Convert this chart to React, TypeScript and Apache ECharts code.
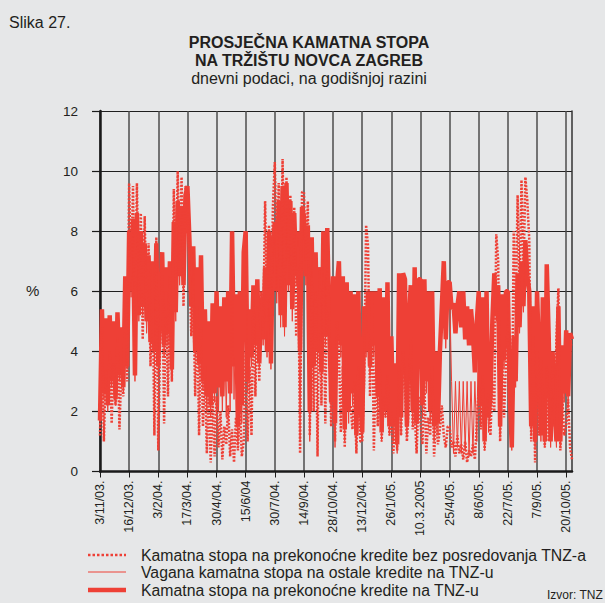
import React, { useEffect, useRef } from "react";
import * as echarts from "echarts";

const tickLabels = [
  "3/11/03.", "16/12/03.", "3/2/04.", "17/3/04.", "30/4/04.", "15/6/04", "30/7/04.",
  "14/9/04.", "28/10/04.", "13/12/04.", "26/1/05.", "10.3.2005", "25/4/05.", "8/6/05.",
  "22/7/05.", "7/9/05.", "20/10/05.",
];

// Kamatna stopa na prekonoćne kredite na TNZ-u (thick)
const overnightTNZ = [
  1.7, 5.4, 2.6, 5.1, 2.2, 5.2, 3.0, 5.0, 2.4, 5.3, 3.2, 4.8, 2.8, 6.5, 3.5,
  8.0, 6.0, 8.4, 3.2, 8.6, 5.2, 8.0, 5.5, 7.6, 5.0, 7.2, 4.3, 7.0, 4.0, 7.6,
  3.5, 5.8, 7.3, 4.2, 6.8, 4.6, 7.0, 3.4, 8.3, 5.3, 9.0, 6.5, 8.8, 6.2, 9.2,
  9.5, 7.8, 5.5, 7.5, 4.0, 6.8, 3.6, 7.2, 3.0, 5.4, 2.5, 5.0, 2.2, 5.6, 2.6,
  6.0, 2.8, 5.5, 2.5, 5.8, 3.0, 6.0, 2.6, 8.0, 3.5, 5.9, 1.5, 6.0, 2.2, 7.3,
  8.0, 3.0, 5.4, 3.8, 6.2, 4.2, 6.4, 3.6, 5.8, 4.4, 6.8, 4.0, 8.0, 3.6, 7.5,
  8.3, 6.0, 9.0, 5.2, 9.5, 4.8, 9.6, 6.2, 9.0, 5.4, 8.6, 6.5, 8.0, 4.0, 8.8,
  8.5, 6.5, 8.2, 2.0, 7.8, 3.5, 7.3, 4.0, 6.8, 3.3, 8.0, 4.5, 8.1, 5.0, 2.3,
  6.5, 1.6, 6.2, 7.0, 4.2, 6.5, 1.4, 6.3, 2.0, 6.0, 2.6, 5.9, 1.2, 6.0, 2.4,
  1.3, 5.5, 4.0, 6.0, 3.5, 6.0, 4.2, 6.0, 2.5, 6.1, 1.3, 5.8, 2.0, 6.3, 1.5,
  4.5, 1.5, 3.6, 0.9, 6.6, 1.8, 6.6, 6.4, 1.5, 5.0, 6.2, 2.0, 6.8, 1.6, 6.4,
  6.4, 2.2, 6.4, 3.0, 6.0, 2.0, 6.0, 1.5, 4.0, 1.6, 4.0, 5.5, 7.0, 4.4, 6.3,
  6.3, 5.4, 5.6, 4.6, 5.5, 6.0, 4.8, 6.0, 4.4, 5.5, 4.2, 5.4, 4.6, 3.3, 5.0,
  6.0, 2.2, 5.8, 1.0, 6.0, 1.8, 2.5, 5.0, 6.6, 5.2, 6.2, 1.5, 5.9, 3.7, 6.0,
  6.0, 2.5, 0.8, 4.5, 3.0, 6.6, 4.8, 7.0, 5.5, 7.7, 6.5, 6.0, 1.5, 5.5, 1.0,
  6.0, 3.9, 1.2, 5.8, 1.0, 6.9, 4.5, 1.0, 4.0, 2.2, 1.0, 5.5, 1.0, 4.2, 2.6,
  4.7, 2.5, 4.6, 4.4,
];

// Vagana kamatna stopa na ostale kredite na TNZ-u (thin)
const weightedOther = [
  1.5, 5.3, 2.4, 5.0, 2.0, 5.1, 2.8, 4.9, 2.2, 5.2, 3.0, 4.7, 2.6, 6.4, 3.4,
  7.8, 5.8, 8.2, 3.0, 8.5, 5.0, 7.8, 5.2, 7.5, 4.6, 7.0, 4.0, 6.8, 3.6, 7.4,
  3.2, 5.6, 7.2, 3.8, 6.6, 4.2, 6.8, 3.0, 8.1, 5.0, 8.9, 6.2, 8.6, 6.0, 9.0,
  9.3, 7.5, 5.2, 7.3, 3.8, 6.6, 3.3, 7.0, 2.7, 5.2, 2.0, 4.8, 1.8, 5.4, 2.3,
  5.8, 2.0, 5.2, 2.0, 5.5, 1.8, 5.8, 2.0, 7.8, 2.4, 5.7, 1.0, 5.8, 1.6, 7.0,
  7.8, 2.6, 5.2, 3.5, 6.0, 4.0, 6.2, 3.4, 5.6, 4.2, 6.6, 3.8, 7.8, 3.4, 7.3,
  8.0, 5.6, 8.8, 4.8, 9.3, 4.5, 9.4, 6.0, 8.8, 5.0, 8.4, 6.2, 7.8, 1.0, 8.6,
  8.3, 6.2, 8.0, 1.0, 7.6, 3.0, 7.1, 3.6, 6.6, 3.0, 7.8, 4.2, 7.9, 4.8, 2.0,
  6.3, 0.8, 6.0, 6.8, 3.8, 6.3, 1.0, 6.1, 1.6, 5.8, 2.2, 5.7, 0.9, 5.8, 2.0,
  1.0, 5.3, 3.8, 5.8, 3.2, 5.8, 3.8, 5.8, 2.2, 5.9, 1.0, 5.6, 1.8, 6.1, 1.2,
  4.3, 1.0, 3.4, 0.6, 6.4, 1.2, 6.4, 6.2, 1.2, 4.8, 6.0, 1.5, 6.6, 1.0, 6.2,
  6.2, 1.8, 6.2, 2.6, 5.8, 1.6, 5.8, 1.0, 3.8, 1.2, 3.8, 5.2, 6.8, 4.1, 6.1,
  6.0, 3.0, 0.6, 3.0, 0.8, 3.0, 0.6, 3.0, 0.7, 3.0, 0.5, 3.0, 0.6, 3.0, 1.0,
  5.8, 1.5, 5.6, 0.7, 5.8, 1.3, 2.2, 4.8, 6.4, 5.0, 6.0, 1.2, 5.7, 3.4, 5.8,
  5.8, 2.2, 0.7, 4.2, 2.8, 6.4, 4.6, 6.8, 5.3, 7.5, 6.3, 5.8, 1.2, 5.2, 0.8,
  5.8, 3.6, 1.0, 5.6, 0.8, 6.7, 4.2, 0.8, 3.8, 2.0, 0.8, 5.3, 0.8, 4.0, 2.3,
  4.5, 2.2, 4.4, 4.2,
];

// Kamatna stopa na prekonoćne kredite bez posredovanja TNZ-a (dotted)
const overnightDirect = [
  1.2, 4.8, 1.0, 3.4, 2.3, 4.0, 1.6, 3.6, 2.2, 4.5, 1.4, 3.4, 2.5, 6.3, 3.0,
  9.6, 6.5, 9.5, 4.5, 9.6, 5.5, 8.6, 4.4, 8.5, 5.0, 7.6, 3.5, 6.8, 1.2, 7.8,
  0.7, 4.5, 6.9, 1.6, 6.0, 2.5, 6.5, 3.0, 9.4, 6.0, 10.0, 7.0, 9.8, 5.5, 9.5,
  9.2, 7.0, 4.5, 6.0, 2.5, 5.5, 1.2, 4.8, 1.5, 3.5, 0.6, 2.8, 0.3, 2.5, 0.5,
  2.5, 0.8, 2.0, 0.4, 1.5, 0.9, 2.2, 0.5, 1.4, 0.3, 1.8, 0.7, 2.2, 0.5, 1.0,
  4.0, 1.0, 3.5, 1.2, 5.8, 2.5, 5.5, 3.0, 6.0, 4.5, 9.0, 5.0, 8.2, 4.2, 8.8,
  10.3, 7.0, 9.6, 5.5, 10.4, 6.0, 9.8, 7.0, 9.2, 5.5, 8.8, 4.5, 7.5, 0.6, 9.3,
  9.3, 7.0, 9.0, 1.2, 6.5, 2.0, 6.0, 0.5, 6.8, 2.2, 6.4, 1.6, 7.0, 5.5, 1.5,
  3.5, 1.0, 5.0, 4.0, 1.3, 3.5, 0.8, 3.8, 2.0, 2.2, 1.4, 3.0, 0.6, 3.5, 1.0,
  1.0, 3.0, 8.2, 7.5, 2.5, 6.0, 0.7, 3.8, 1.5, 3.5, 1.0, 2.5, 1.8, 3.2, 1.2,
  2.0, 0.6, 1.8, 0.7, 3.5, 1.2, 4.0, 2.8, 1.0, 2.2, 4.5, 1.4, 2.0, 0.6, 2.5,
  1.6, 0.9, 3.0, 0.6, 1.8, 1.2, 3.5, 0.5, 1.8, 0.9, 1.4, 2.2, 1.2, 0.8, 1.5,
  1.5, 0.8, 1.0, 0.5, 1.2, 0.6, 0.9, 0.4, 1.0, 0.3, 0.7, 0.5, 0.9, 0.4, 1.6,
  2.8, 1.4, 3.2, 0.7, 2.0, 2.6, 1.2, 3.0, 2.0, 7.9, 7.0, 1.0, 4.0, 1.8, 3.6,
  5.0, 3.0, 1.0, 8.0, 5.2, 9.2, 6.0, 9.7, 6.5, 9.8, 9.0, 7.7, 1.0, 4.5, 0.3,
  4.0, 1.2, 3.8, 2.0, 0.8, 3.5, 1.0, 2.5, 3.5, 1.5, 4.5, 6.1, 0.7, 2.5, 1.2,
  1.5, 2.4, 0.8, 0.4,
];

const seriesNames = [
  "Kamatna stopa na prekonoćne kredite bez posredovanja TNZ-a",
  "Vagana kamatna stopa na ostale kredite na TNZ-u",
  "Kamatna stopa na prekonoćne kredite na TNZ-u",
];

const LABEL_STEP = 15;
const RED = "#ee4036";
const INK = "#231f20";
const FONT = "'Liberation Sans', Arial, Helvetica, sans-serif";

const categories = overnightTNZ.map((_, i) =>
  i % LABEL_STEP === 0 && i / LABEL_STEP < tickLabels.length ? tickLabels[i / LABEL_STEP] : ""
);

export default function App() {
  const ref = useRef<HTMLDivElement>(null);
  useEffect(() => {
    if (!ref.current) return;
    const chart = echarts.init(ref.current, undefined, { renderer: "svg" });
    const txt = (text: string, x: number, y: number, size: number, weight = "normal", align = "left") => ({
      type: "text",
      x,
      y,
      silent: true,
      style: {
        text,
        font: `${weight} ${size}px ${FONT}`,
        fill: INK,
        textAlign: align,
        textVerticalAlign: "middle",
        align,
        verticalAlign: "middle",
      },
    });
    const legendRows = [555, 572, 590];
    const legendStyles = [
      { lineWidth: 2.5, lineDash: [2.5, 2] },
      { lineWidth: 1 },
      { lineWidth: 4.5 },
    ];
    const legendGraphics: any[] = [];
    seriesNames.forEach((name, i) => {
      legendGraphics.push({
        type: "line",
        silent: true,
        shape: { x1: 88, y1: legendRows[i], x2: 126, y2: legendRows[i] },
        style: { stroke: RED, ...legendStyles[i] },
      });
      legendGraphics.push(txt(name, 141, legendRows[i], 15.8));
    });
    chart.setOption({
      animation: false,
      backgroundColor: "#e6e7e8",
      textStyle: { fontFamily: FONT },
      grid: { left: 100, right: 33, top: 111, bottom: 131.5, containLabel: false },
      graphic: [
        txt("Slika 27.", 9, 22, 16),
        txt("PROSJEČNA KAMATNA STOPA", 309, 42, 16, "bold", "center"),
        txt("NA TRŽIŠTU NOVCA ZAGREB", 309, 60, 16, "bold", "center"),
        txt("dnevni podaci, na godišnjoj razini", 309, 78, 16, "normal", "center"),
        txt("%", 26, 290, 15),
        txt("Izvor: TNZ", 547, 595, 12),
        ...legendGraphics,
      ],
      xAxis: {
        type: "category",
        data: categories,
        boundaryGap: false,
        axisLine: { lineStyle: { color: "#1a1a1a", width: 2.5 } },
        axisTick: { show: true, interval: LABEL_STEP - 1, length: 6, lineStyle: { color: "#1a1a1a", width: 1 } },
        axisLabel: { interval: LABEL_STEP - 1, rotate: 90, margin: 9, fontSize: 12.5, color: INK, fontFamily: FONT },
        splitLine: { show: true, interval: LABEL_STEP - 1, lineStyle: { color: "#4d4d4d", width: 1.5 } },
      },
      yAxis: [
        {
          type: "value",
          min: 0,
          max: 12,
          interval: 2,
          axisLine: { show: true, lineStyle: { color: "#1a1a1a", width: 2.5 } },
          axisTick: { show: true, length: 8, lineStyle: { color: "#1a1a1a", width: 1.2 } },
          axisLabel: { margin: 22, fontSize: 13.5, color: INK, fontFamily: FONT },
          splitLine: { show: true, lineStyle: { color: "#1f1f1f", width: 1.2 } },
        },
        {
          type: "value",
          position: "right",
          min: 0,
          max: 12,
          interval: 2,
          axisLine: { show: true, lineStyle: { color: "#333", width: 1.5 } },
          axisTick: { show: false },
          axisLabel: { show: false },
          splitLine: { show: false },
        },
      ],
      series: [
        {
          name: seriesNames[2],
          type: "line",
          data: overnightTNZ,
          symbol: "none",
          z: 2,
          lineStyle: { color: RED, width: 4.5, join: "bevel" },
          itemStyle: { color: RED },
        },
        {
          name: seriesNames[1],
          type: "line",
          data: weightedOther,
          symbol: "none",
          z: 3,
          lineStyle: { color: RED, width: 1 },
          itemStyle: { color: RED },
        },
        {
          name: seriesNames[0],
          type: "line",
          data: overnightDirect,
          symbol: "none",
          z: 4,
          lineStyle: { color: RED, width: 2.5, type: [2, 1.5], join: "bevel" },
          itemStyle: { color: RED },
        },
      ],
    });
    return () => chart.dispose();
  }, []);
  return (
    <div
      ref={ref}
      style={{ position: "absolute", left: 0, top: 0, width: 605, height: 603 }}
    />
  );
}
